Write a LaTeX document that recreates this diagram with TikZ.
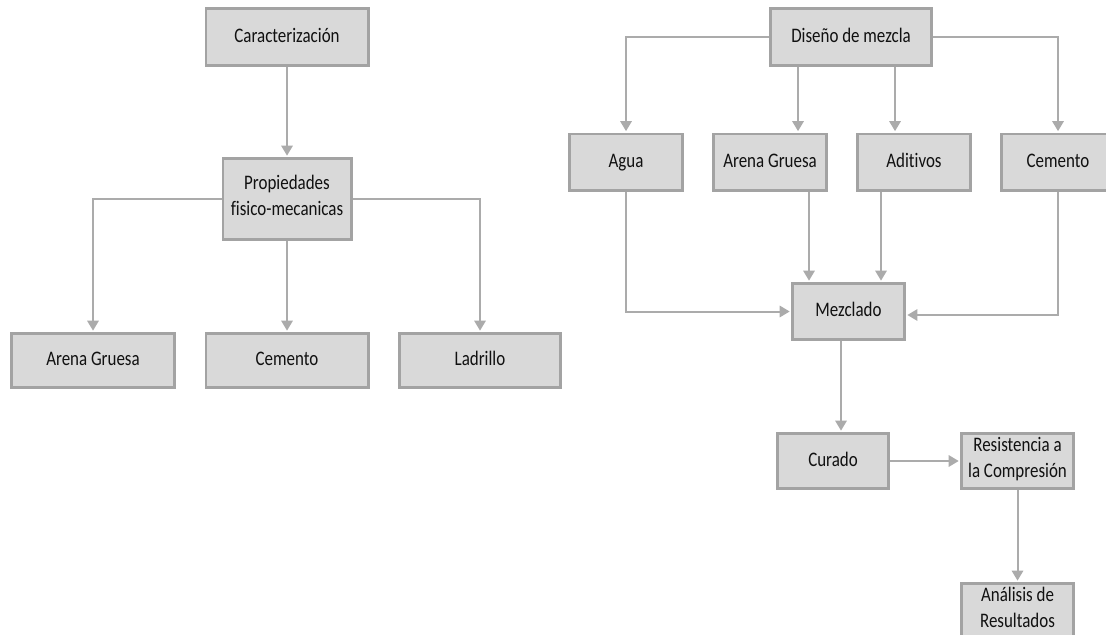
\documentclass[tikz,border=0pt]{standalone}
\usepackage{fontspec}
\setmainfont{Carlito}[FakeStretch=0.82, Ligatures=NoCommon]
\usepackage{xcolor}
\usepackage{tikz}
\usetikzlibrary{arrows.meta,positioning}

\definecolor{boxgray}{HTML}{D9D9D9}
\definecolor{edgegray}{HTML}{A3A3A3}
\definecolor{linegray}{HTML}{ABABAB}
\definecolor{textdark}{HTML}{111111}

\begin{document}
\begin{tikzpicture}[
  x=0.75pt, y=-0.75pt,
  >={Triangle[length=7.5pt,width=8.5pt]},
  font=\fontsize{15.5pt}{19.5pt}\selectfont,
  box/.style={draw=edgegray, line width=2.2pt, fill=boxgray, text=textdark, align=center, inner sep=0pt,
    execute at begin node=\strut, execute at end node=\strut},
  wh/.style 2 args={minimum width=#1*0.75pt-2.2pt, minimum height=#2*0.75pt-2.2pt},
  arrow/.style={->, line width=1.5pt, draw=linegray, shorten >=1pt}
]
\useasboundingbox (0,0) rectangle (1106,635);
\clip (0,0) rectangle (1106,635);

% caracterizacion
\node[box, wh={165}{60}] (car) at (287,37) {Caracterización};
\node[box, wh={131}{84}] (prop) at (287,199) {Propiedades\\fisico-mecanicas};
\node[box, wh={166}{57}] (arenaA) at (93,360.5) {Arena Gruesa};
\node[box, wh={165}{57}] (cemA) at (287,360.5) {Cemento};
\node[box, wh={164}{57}] (lad) at (480,360.5) {Ladrillo};

% diseno de mezcla
\node[box, wh={164}{60}] (dis) at (851,37) {Diseño de mezcla};
\node[box, wh={116}{59}] (agua) at (626,162) {Agua};
\node[box, wh={116}{59}] (arenaB) at (770,162) {Arena Gruesa};
\node[box, wh={116}{59}] (adit) at (914,162) {Aditivos};
\node[box, wh={116}{59}] (cemB) at (1058,162) {Cemento};
\node[box, wh={115}{59}] (mez) at (848.5,311.5) {Mezclado};
\node[box, wh={114}{58}] (cur) at (833,461) {Curado};
\node[box, wh={115}{58}] (res) at (1017.5,461) {Resistencia a\\la Compresión};
\node[box, wh={115}{58}] (ana) at (1017.5,611) {Análisis de\\Resultados};

\draw[arrow] (car) -- (prop);
\draw[arrow] (prop.west) -| (arenaA.north);
\draw[arrow] (prop) -- (cemA);
\draw[arrow] (prop.east) -| (lad.north);

\draw[arrow] (dis.west) -| (agua.north);
\draw[arrow] (dis.south -| 798,0) -- (arenaB.north -| 798,0);
\draw[arrow] (dis.south -| 895,0) -- (adit.north -| 895,0);
\draw[arrow] (dis.east) -| (cemB.north);
\draw[arrow] (agua.south) |- (mez.west);
\draw[arrow] (arenaB.south -| 809,0) -- (mez.north -| 809,0);
\draw[arrow] (adit.south -| 881,0) -- (mez.north -| 881,0);
\draw[arrow] (cemB.south) |- (mez.east |- 0,315);
\draw[arrow] (mez.south -| 841,0) -- (cur.north -| 841,0);
\draw[arrow] (cur) -- (res);
\draw[arrow] (res) -- (ana);
\end{tikzpicture}
\end{document}
